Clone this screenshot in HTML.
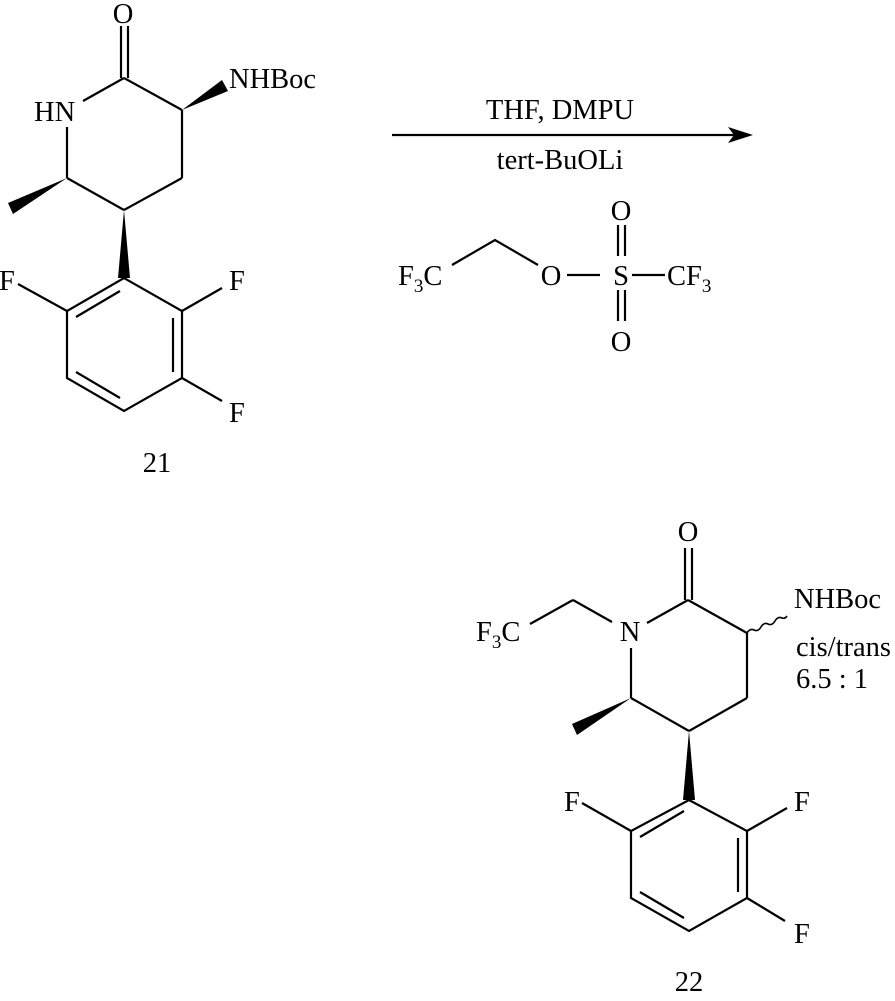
<!DOCTYPE html>
<html><head><meta charset="utf-8"><style>
html,body{margin:0;padding:0;background:#fff;}
svg{display:block;}
text{font-family:"Liberation Serif",serif;font-size:28.5px;fill:#000;}
</style></head><body>
<svg width="895" height="1001" viewBox="0 0 895 1001" xmlns="http://www.w3.org/2000/svg">
<g stroke="#000" stroke-width="2.2" fill="none" stroke-linecap="butt">
<line x1="121" y1="26" x2="121" y2="78"/><line x1="128" y1="26" x2="128" y2="78"/>
<line x1="124" y1="78" x2="83" y2="101"/>
<line x1="124" y1="78" x2="182" y2="110"/>
<line x1="67" y1="127" x2="67" y2="178"/>
<line x1="67" y1="178" x2="124" y2="210"/>
<line x1="124" y1="210" x2="182" y2="178"/>
<line x1="182" y1="110" x2="182" y2="178"/>
<polygon points="124,278 182,311 182,378 124,411 67,378 67,311"/>
<line x1="76" y1="317" x2="120" y2="291"/>
<line x1="173" y1="318" x2="173" y2="372"/>
<line x1="76" y1="372" x2="120" y2="398"/>
<line x1="67" y1="311" x2="18" y2="284"/>
<line x1="182" y1="311" x2="222" y2="288"/>
<line x1="182" y1="378" x2="222" y2="401"/>
<line x1="392" y1="135" x2="740" y2="135"/>
<polyline points="452,265 495,240 538,265"/>
<line x1="567" y1="275" x2="600" y2="275"/>
<line x1="632" y1="275" x2="665" y2="275"/>
<line x1="618" y1="225" x2="618" y2="256"/><line x1="625" y1="225" x2="625" y2="256"/>
<line x1="618" y1="290" x2="618" y2="321"/><line x1="625" y1="290" x2="625" y2="321"/>
<line x1="685" y1="548" x2="685" y2="600"/><line x1="692" y1="548" x2="692" y2="600"/>
<line x1="688" y1="600" x2="647" y2="623"/>
<line x1="688" y1="600" x2="747" y2="633"/>
<line x1="612" y1="622" x2="573" y2="600"/>
<line x1="573" y1="600" x2="530" y2="624"/>
<line x1="631" y1="648" x2="631" y2="698"/>
<line x1="631" y1="698" x2="689" y2="731"/>
<line x1="689" y1="731" x2="747" y2="698"/>
<line x1="747" y1="633" x2="747" y2="698"/>
<path d="M747,633 q3,-5 7,-3 q4,2 7,-3 q3,-5 7,-3 q4,2 7,-3 q3,-5 7,-3 q3,1 5,-2" stroke-width="1.6"/>
<polygon points="689,800 747,831 747,898 689,931 631,898 631,831"/>
<line x1="640" y1="837" x2="684" y2="811"/>
<line x1="738" y1="838" x2="738" y2="892"/>
<line x1="640" y1="892" x2="684" y2="918"/>
<line x1="631" y1="831" x2="582" y2="803"/>
<line x1="747" y1="831" x2="787" y2="808"/>
<line x1="747" y1="898" x2="785" y2="921"/>
</g>
<g fill="#000" stroke="none">
<polygon points="182,110 222,80 228,91"/>
<polygon points="67,178 8,203 13,214"/>
<polygon points="124,210 118,278 130,278"/>
<polygon points="753,135 728,127 734,135 728,143"/>
<polygon points="689,731 683,800 695,800"/>
<polygon points="631,698 572,724 577,735"/>
</g>
<text x="123" y="23" text-anchor="middle">O</text>
<text x="229" y="88">NHBoc</text>
<text x="34" y="121">HN</text>
<text x="-1" y="290">F</text>
<text x="229" y="290">F</text>
<text x="229" y="422">F</text>
<text x="157" y="472" text-anchor="middle">21</text>
<text x="560" y="119" text-anchor="middle">THF, DMPU</text>
<text x="560" y="169" text-anchor="middle">tert-BuOLi</text>
<text x="398" y="285">F<tspan font-size="19" dy="7">3</tspan><tspan dy="-7">C</tspan></text>
<text x="551" y="285" text-anchor="middle">O</text>
<text x="621" y="285" text-anchor="middle">S</text>
<text x="621" y="220" text-anchor="middle">O</text>
<text x="621" y="351" text-anchor="middle">O</text>
<text x="667" y="285">CF<tspan font-size="19" dy="7">3</tspan></text>
<text x="688" y="541" text-anchor="middle">O</text>
<text x="794" y="608">NHBoc</text>
<text x="796" y="656">cis/trans</text>
<text x="796" y="688">6.5 : 1</text>
<text x="630" y="641" text-anchor="middle">N</text>
<text x="476" y="641">F<tspan font-size="19" dy="7">3</tspan><tspan dy="-7">C</tspan></text>
<text x="564" y="811">F</text>
<text x="794" y="811">F</text>
<text x="794" y="943">F</text>
<text x="689" y="991" text-anchor="middle">22</text>
</svg>
</body></html>
